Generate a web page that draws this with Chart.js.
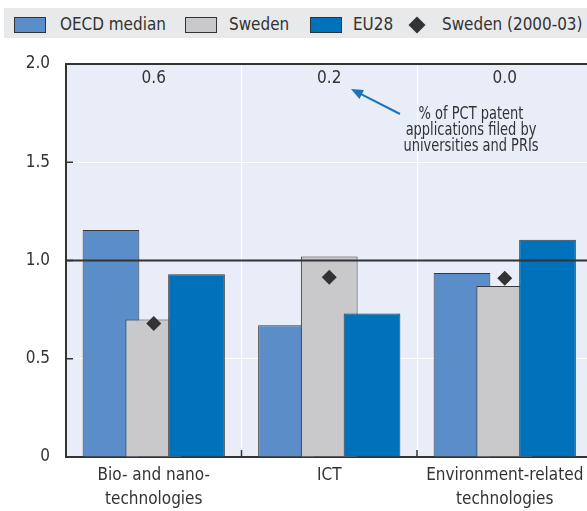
<!DOCTYPE html>
<html>
<head>
<meta charset="utf-8">
<script src="https://cdn.jsdelivr.net/npm/chart.js@4.4.1/dist/chart.umd.min.js"></script>
<style>
  html, body { margin: 0; padding: 0; background: #fff; overflow: hidden; }
  #wrap { position: relative; width: 587px; height: 511px; overflow: hidden; }
  #chart { position: absolute; left: 0; top: 0; }
  .band { position: absolute; left: 4px; top: 8px; width: 600px; height: 30px; background: #e8e9ea; }
  .item { position: absolute; top: 8px; height: 30px; line-height: 31px; font-family: 'Liberation Sans Narrow', 'DejaVu Sans Condensed', sans-serif; font-size: 18px; color: #333; white-space: nowrap; transform: scaleX(0.94); transform-origin: left center; }
  .box { position: absolute; top: 16.5px; width: 32px; height: 16px; box-sizing: border-box; border: 1px solid #333; }
  .diamond { position: absolute; left: 410.5px; top: 18.5px; width: 12px; height: 12px; background: #333; transform: rotate(45deg) scale(1, 1); }
</style>
</head>
<body>
<div id="wrap">
  <canvas id="chart" width="600" height="511"></canvas>
  <div class="band"></div>
  <div class="box" style="left:14px;background:#5b8ec8"></div>
  <div class="item" style="left:60px">OECD median</div>
  <div class="box" style="left:185px;background:#c9c9cb"></div>
  <div class="item" style="left:229px">Sweden</div>
  <div class="box" style="left:310px;background:#0071bb"></div>
  <div class="item" style="left:353px">EU28</div>
  <div class="diamond"></div>
  <div class="item" style="left:442px">Sweden (2000-03)</div>
</div>
<script>
const categories = [['Bio- and nano-', 'technologies'], 'ICT', ['Environment-related', 'technologies']];
const oecdMedian = [1.155, 0.67, 0.936];
const sweden = [0.70, 1.02, 0.87];
const eu28 = [0.93, 0.73, 1.106];
const sweden2000 = [0.68, 0.915, 0.91];
// share of PCT patent applications filed by universities and PRIs
const pctShares = ['0.6', '0.2', '0.0'];
const yTicks = [0, 0.5, 1, 1.5, 2];

const FONT = "'Liberation Sans Narrow', 'DejaVu Sans Condensed', sans-serif";
const DARK = '#333';

// narrower text: squeeze with the maxWidth argument of fillText
const narrowText = (ctx, str, x, y, k) => {
  ctx.fillText(str, x, y, ctx.measureText(str).width * k);
};

// background, custom draw order (later datasets on top) and annotations
const decor = {
  id: 'decor',
  beforeDraw: (chart) => {
    const ctx = chart.ctx;
    const a = chart.chartArea;
    ctx.save();
    ctx.fillStyle = '#fff';
    ctx.fillRect(0, 0, chart.width, chart.height);
    ctx.fillStyle = '#e9edf7';
    ctx.fillRect(a.left, a.top, a.right - a.left, a.bottom - a.top);
    ctx.restore();
  },
  beforeDatasetsDraw: (chart) => {
    const metas = chart.getSortedVisibleDatasetMetas();
    for (let i = 0; i < metas.length; i++) {
      chart._drawDataset(metas[i]);
    }
    return false;
  },
  afterDraw: (chart) => {
    const ctx = chart.ctx;
    const a = chart.chartArea;
    const x = chart.scales.x;
    const y = chart.scales.y;
    ctx.save();
    // reference line at 1
    ctx.strokeStyle = DARK;
    ctx.lineWidth = 2;
    ctx.beginPath();
    ctx.moveTo(a.left, y.getPixelForValue(1));
    ctx.lineTo(a.right, y.getPixelForValue(1));
    ctx.stroke();
    // inner tick marks
    ctx.lineWidth = 1.5;
    ctx.beginPath();
    for (const v of yTicks) {
      if (v > 0 && v < 2) {
        const py = y.getPixelForValue(v);
        ctx.moveTo(a.left, py);
        ctx.lineTo(a.left + 7, py);
      }
    }
    for (let i = 1; i < categories.length; i++) {
      const px = (x.getPixelForValue(i - 1) + x.getPixelForValue(i)) / 2;
      ctx.moveTo(px, a.bottom);
      ctx.lineTo(px, a.bottom - 7);
    }
    ctx.stroke();
    // shares on top
    ctx.fillStyle = DARK;
    ctx.font = '17px ' + FONT;
    ctx.textAlign = 'center';
    ctx.textBaseline = 'middle';
    for (let i = 0; i < pctShares.length; i++) {
      ctx.fillText(pctShares[i], x.getPixelForValue(i), a.top + 15);
    }
    // note and arrow
    const note = ['% of PCT patent', 'applications filed by', 'universities and PRIs'];
    note.forEach((t, i) => narrowText(ctx, t, 471, 115 + i * 16, 0.85));
    ctx.strokeStyle = '#1f72b8';
    ctx.fillStyle = '#1f72b8';
    ctx.lineWidth = 2;
    const x0 = 400, y0 = 114, x1 = 351, y1 = 89;
    const ang = Math.atan2(y1 - y0, x1 - x0);
    ctx.beginPath();
    ctx.moveTo(x0, y0);
    ctx.lineTo(x1 - Math.cos(ang) * 8, y1 - Math.sin(ang) * 8);
    ctx.stroke();
    ctx.beginPath();
    ctx.moveTo(x1, y1);
    ctx.lineTo(x1 - Math.cos(ang) * 12 + Math.sin(ang) * 5, y1 - Math.sin(ang) * 12 - Math.cos(ang) * 5);
    ctx.lineTo(x1 - Math.cos(ang) * 12 - Math.sin(ang) * 5, y1 - Math.sin(ang) * 12 + Math.cos(ang) * 5);
    ctx.closePath();
    ctx.fill();
    ctx.restore();
  }
};

const barStyle = { borderColor: '#3a3a3a', borderWidth: 1 };

new Chart(document.getElementById('chart'), {
  type: 'bar',
  data: {
    labels: categories,
    datasets: [
      { label: 'OECD median', data: oecdMedian, backgroundColor: '#5b8ec8', ...barStyle },
      { label: 'Sweden', data: sweden, backgroundColor: '#c9c9cb', ...barStyle },
      { label: 'EU28', data: eu28, backgroundColor: '#0071bb', ...barStyle },
      {
        type: 'line', label: 'Sweden (2000-03)', data: sweden2000, showLine: false,
        pointStyle: 'rectRot', pointRadius: 7.5, pointBackgroundColor: DARK,
        pointBorderColor: DARK, pointBorderWidth: 0
      }
    ]
  },
  options: {
    responsive: false,
    animation: false,
    devicePixelRatio: 1,
    layout: { padding: { top: 64, right: 5, left: 0, bottom: 0 } },
    datasets: { bar: { categoryPercentage: 0.731, barPercentage: 1.326 } },
    plugins: { legend: { display: false }, tooltip: { enabled: false } },
    scales: {
      x: {
        offset: true,
        grid: { color: '#fff', lineWidth: 1, drawTicks: false, offset: true },
        border: { color: DARK, width: 2 },
        ticks: { padding: 6, color: DARK, font: { family: FONT, size: 17, lineHeight: 1.45 }, maxRotation: 0, autoSkip: false },
        afterFit: (s) => { s.height = 54; }
      },
      y: {
        min: 0,
        max: 2,
        afterBuildTicks: (s) => { s.ticks = yTicks.map((v) => ({ value: v })); },
        grid: {
          drawTicks: false,
          color: (c) => (c.tick && (c.tick.value === 2 || c.tick.value === 0)) ? DARK : '#fff',
          lineWidth: (c) => (c.tick && c.tick.value === 2) ? 2 : 1
        },
        border: { color: DARK, width: 2 },
        ticks: {
          padding: 16, color: DARK, font: { family: FONT, size: 17 },
          callback: (v) => v === 0 ? '0' : v.toFixed(1)
        },
        afterFit: (s) => { s.width = 66; }
      }
    }
  },
  plugins: [decor]
});
</script>
</body>
</html>
